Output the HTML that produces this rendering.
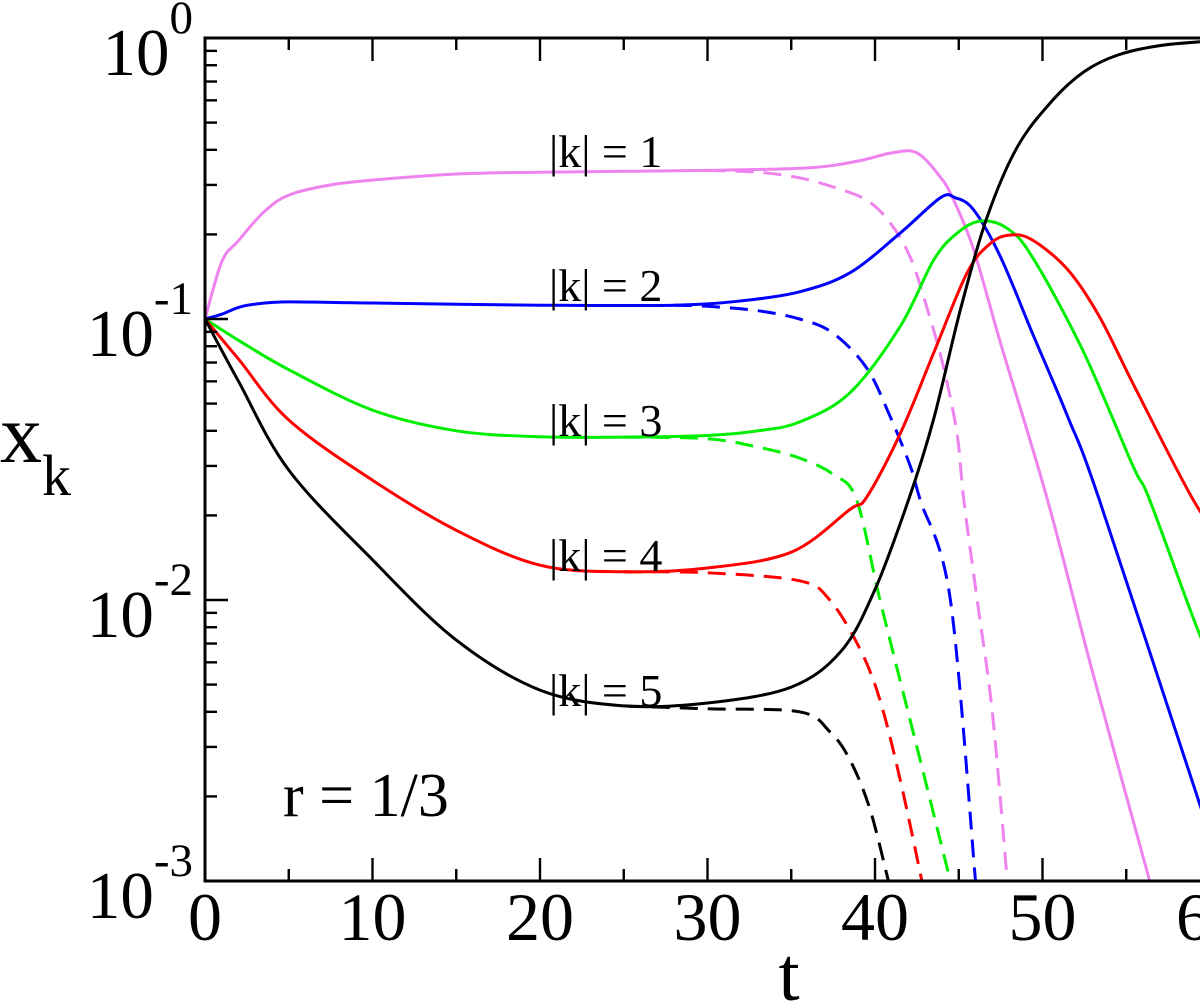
<!DOCTYPE html>
<html><head><meta charset="utf-8"><style>
html,body{margin:0;padding:0;background:#fff;}
svg{display:block;font-family:"Liberation Serif",serif;}
</style></head><body>
<svg id="chart" width="1200" height="1004" viewBox="0 0 1200 1004" xmlns="http://www.w3.org/2000/svg">
<defs><clipPath id="clip"><rect x="205" y="38" width="1005" height="843"/></clipPath></defs>
<g id="plot"></g>
<g id="axes"></g>
</svg>
<script>
const k1T=[0,1,2,3.5,5,7.5,10,15,20,30,36,39,41,42.5,43.9,44.7,45.9,47.5,50.3,53,56.4];
const k1V=[0.1,0.16,0.19,0.24,0.276,0.30,0.312,0.328,0.333,0.338,0.345,0.365,0.39,0.39,0.32,0.265,0.176,0.082,0.0227,0.0055,0.001];
const k1dT=[30,33,35.5,37.5,39.5,40.9,42.1,43.1,44.1,44.9,45.3,46.1,47,47.9];
const k1dV=[0.338,0.333,0.318,0.295,0.265,0.22,0.166,0.11,0.067,0.039,0.0227,0.01,0.004,0.001];
const k2T=[0,1,2,3,5,10,20,28,32,35.5,38.5,41.5,43.9,44.8,45.9,47.5,49.4,51.5,53.4,59.4,61];
const k2V=[0.1,0.104,0.11,0.113,0.115,0.114,0.112,0.112,0.116,0.125,0.146,0.202,0.27,0.27,0.244,0.166,0.089,0.045,0.0227,0.00187,0.001];
const k2dT=[28,30,33,35.5,37.5,39.5,40.9,42.1,42.7,44.5,46];
const k2dV=[0.112,0.111,0.107,0.1,0.089,0.067,0.045,0.030,0.0227,0.01,0.001];
const k3T=[0,2,5,10,15,20,25,30,33,35.5,38.5,41.5,43.5,44.9,46.3,47.9,49.4,52.4,55.4,56.4,59.4,61];
const k3V=[0.1,0.084,0.066,0.0474,0.040,0.0381,0.038,0.0385,0.040,0.043,0.0546,0.094,0.162,0.202,0.223,0.21,0.166,0.0775,0.03,0.0227,0.0075,0.0048];
const k3dT=[25,30,33,35.5,37.5,38.9,40.3,42.5,44.5];
const k3dV=[0.038,0.0375,0.035,0.032,0.028,0.0227,0.01,0.003,0.001];
const k4T=[0,2,5,10,15,20,25,30,35,38.5,39.5,41.5,43.5,45.5,46.9,48.1,49.4,51.5,53.4,55.4,59,61];
const k4V=[0.1,0.072,0.0437,0.0267,0.0177,0.0133,0.0126,0.013,0.0148,0.021,0.0232,0.039,0.0756,0.146,0.186,0.199,0.191,0.15,0.102,0.059,0.0227,0.0155];
const k4dT=[25,30,35.5,37.3,39.1,40.3,41.5,42.8];
const k4dV=[0.0126,0.0125,0.0117,0.0100,0.0067,0.0044,0.0023,0.001];
const k5T=[0,2,5,10,15,20,25,30,35,38,40,42,43.5,45.1,46.7,48.5,50.6,52.5,54.5,57,60];
const k5V=[0.1,0.06,0.029,0.0139,0.0072,0.00478,0.0042,0.0043,0.0049,0.0066,0.0109,0.0227,0.044,0.108,0.231,0.41,0.6,0.76,0.87,0.94,0.975];
const k5dT=[25,30,35.5,37.3,38.5,39.7,40.8];
const k5dV=[0.0042,0.0041,0.004,0.0034,0.0027,0.0018,0.001];
const xTicks=[0,10,20,30,40,50,60];
const xTickLabels=["0","10","20","30","40","50","60"];
const yExps=[0,-1,-2,-3];

const NS="http://www.w3.org/2000/svg";
const X0=205,XS=16.75,YTOP=38,DEC=281;
function sx(t){return X0+t*XS;}
function sy(v){return YTOP-Math.log10(v)*DEC;}
function mk(tag,attrs,parent){const e=document.createElementNS(NS,tag);for(const k in attrs)e.setAttribute(k,attrs[k]);parent.appendChild(e);return e;}
const plot=document.getElementById('plot');
const axes=document.getElementById('axes');
const clipG=mk('g',{'clip-path':'url(#clip)'},plot);
function smoothPath(P){
  let d='M'+P[0][0].toFixed(1)+','+P[0][1].toFixed(1);
  for(let i=0;i<P.length-1;i++){
    const p0=P[i-1]||P[i],p1=P[i],p2=P[i+1],p3=P[i+2]||P[i+1];
    const c1=[p1[0]+(p2[0]-p0[0])/6,p1[1]+(p2[1]-p0[1])/6];
    const c2=[p2[0]-(p3[0]-p1[0])/6,p2[1]-(p3[1]-p1[1])/6];
    d+=' C'+c1[0].toFixed(1)+','+c1[1].toFixed(1)+' '+c2[0].toFixed(1)+','+c2[1].toFixed(1)+' '+p2[0].toFixed(1)+','+p2[1].toFixed(1);
  }
  return d;
}
function series(T,V,color,dashed,name){
  const P=T.map((t,i)=>[sx(t),sy(V[i])]);
  const p=mk('path',{d:smoothPath(P),fill:'none',stroke:color,'stroke-width':3,'stroke-linejoin':'round'},clipG);
  if(dashed)p.setAttribute('stroke-dasharray','18 10');
  
  
}
series(k1dT,k1dV,'#ee82ee',true,'k1-dashed-line');
series(k2dT,k2dV,'#0000ff',true,'k2-dashed-line');
series(k3dT,k3dV,'#00ee00',true,'k3-dashed-line');
series(k4dT,k4dV,'#ff0000',true,'k4-dashed-line');
series(k5dT,k5dV,'#000000',true,'k5-dashed-line');
series(k1T,k1V,'#ee82ee',false,'k1-solid-line');
series(k2T,k2V,'#0000ff',false,'k2-solid-line');
series(k3T,k3V,'#00ee00',false,'k3-solid-line');
series(k4T,k4V,'#ff0000',false,'k4-solid-line');
series(k5T,k5V,'#000000',false,'k5-solid-line');

const fr=mk('path',{d:'M1210,38 H205 V881 H1210',fill:'none',stroke:'#000','stroke-width':3},axes);


for(let t=0;t<=60;t+=5){
  const L=(t%10===0)?23:12;
  mk('line',{x1:sx(t),x2:sx(t),y1:881,y2:881-L,stroke:'#000','stroke-width':2.4},axes);
  mk('line',{x1:sx(t),x2:sx(t),y1:38,y2:38+L,stroke:'#000','stroke-width':2.4},axes);
}
xTicks.forEach((t,i)=>{
  const tx=mk('text',{x:sx(t),y:940,'font-size':68,'text-anchor':'middle'},axes);
  tx.textContent=xTickLabels[i];
  
  
});
yExps.forEach(e=>{
  const y=sy(Math.pow(10,e));
  mk('line',{x1:205,x2:228,y1:y,y2:y,stroke:'#000','stroke-width':2.4},axes);
  if(e>-3){for(let m=2;m<=9;m++){const ym=sy(m*Math.pow(10,e-1));mk('line',{x1:205,x2:217,y1:ym,y2:ym,stroke:'#000','stroke-width':2.4},axes);}}
  const tx=mk('text',{x:193,y:y+37,'font-size':67,'text-anchor':'end'},axes);
  tx.appendChild(document.createTextNode('10'));
  const sp=mk('tspan',{dy:-42,'font-size':47},tx);
  sp.textContent=(e===0?'0':String(e));
  
  
});
</script>
<svg style="position:absolute;left:0;top:0" width="1200" height="1004">
<g font-family="Liberation Serif, serif" fill="#000">
<text x="549" y="167" font-size="46">|k| = 1</text>
<text x="549" y="301" font-size="46">|k| = 2</text>
<text x="549" y="436" font-size="46">|k| = 3</text>
<text x="549" y="571" font-size="46">|k| = 4</text>
<text x="549" y="706" font-size="46">|k| = 5</text>
<text x="283" y="816" font-size="62">r = 1/3</text>
<text x="789" y="1000" font-size="76" text-anchor="middle">t</text>
<text x="0" y="462" font-size="84">x</text>
<text x="42" y="495" font-size="58">k</text>
</g>
</svg>
</body></html>
